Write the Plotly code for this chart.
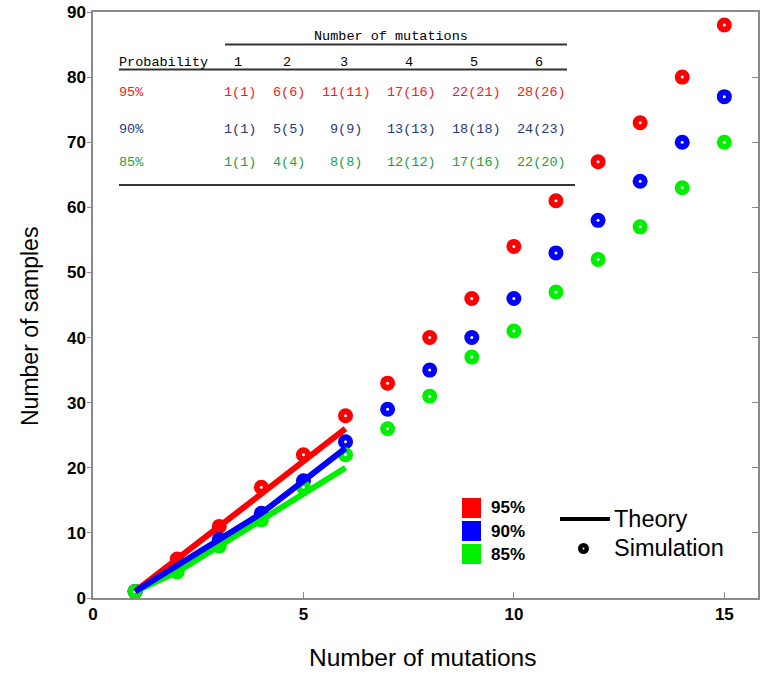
import plotly.graph_objects as go

# ---------------- data ----------------
mutations_sim = list(range(1, 16))
sim_95 = [1, 6, 11, 17, 22, 28, 33, 40, 46, 54, 61, 67, 73, 80, 88]
sim_90 = [1, 5, 9, 13, 18, 24, 29, 35, 40, 46, 53, 58, 64, 70, 77]
sim_85 = [1, 4, 8, 12, 17, 22, 26, 31, 37, 41, 47, 52, 57, 63, 70]

mutations_theory = [1, 2, 3, 4, 5, 6]
theory_95 = [1, 6, 11, 16, 21, 26]
theory_90 = [1, 5, 9, 13, 18, 23]
theory_85 = [1, 4, 8, 12, 16, 20]

prob_labels = ["95%", "90%", "85%"]
table_cols = ["1", "2", "3", "4", "5", "6"]
table_sim = [sim_95[:6], sim_90[:6], sim_85[:6]]
table_theory = [theory_95, theory_90, theory_85]

x_ticks = [0, 5, 10, 15]
y_ticks = [0, 10, 20, 30, 40, 50, 60, 70, 80, 90]

# ---------------- styling ----------------
W, H = 766, 677
L, R, T, B = 93, 758, 12, 598
plot_colors = ["#ff0000", "#0000ff", "#00ee00"]
table_colors = ["#ee2222", "#1f3a78", "#1ea03c"]
axis_gray = "#8a8a8a"
sans = "Liberation Sans, Arial, sans-serif"
mono = "Liberation Mono, Courier New, monospace"


def px(x):
    return (x - L) / (R - L)


def py(y):
    return (B - y) / (B - T)


fig = go.Figure()

sims = [sim_95, sim_90, sim_85]

for s, c in zip(sims, plot_colors):
    fig.add_trace(go.Scatter(x=mutations_sim, y=s, mode="markers",
                             marker=dict(size=15, color=c, line=dict(width=0)),
                             showlegend=False, hoverinfo="skip"))
for s in sims:
    fig.add_trace(go.Scatter(x=mutations_sim, y=s, mode="markers",
                             marker=dict(size=3, color="white", line=dict(width=0)),
                             showlegend=False, hoverinfo="skip"))
for t, c in zip([theory_95, theory_85, theory_90], [plot_colors[0], plot_colors[2], plot_colors[1]]):
    fig.add_trace(go.Scatter(x=mutations_theory, y=t, mode="lines",
                             line=dict(color=c, width=6),
                             showlegend=False, hoverinfo="skip"))

# dummy trace for right-side axis
fig.add_trace(go.Scatter(x=[None], y=[None], yaxis="y2", showlegend=False))

annotations = []
shapes = []

# ---- table ----
annotations.append(dict(x=px(391), y=py(37), xref="paper", yref="paper",
                        text="Number of mutations", showarrow=False,
                        font=dict(family=mono, size=13.5, color="black"),
                        xanchor="center", yanchor="middle"))
shapes.append(dict(type="line", xref="paper", yref="paper",
                   x0=px(225), x1=px(567), y0=py(44.5), y1=py(44.5),
                   line=dict(color="#333333", width=2)))
annotations.append(dict(x=px(117), y=py(62), xref="paper", yref="paper",
                        text="Probability", showarrow=False,
                        font=dict(family=mono, size=13.5, color="black"),
                        xanchor="left", yanchor="middle"))
col_x = [238, 287, 344, 409, 474, 539]
for cx, lab in zip(col_x, table_cols):
    annotations.append(dict(x=px(cx), y=py(62), xref="paper", yref="paper",
                            text=lab, showarrow=False,
                            font=dict(family=mono, size=13.5, color="black"),
                            xanchor="center", yanchor="middle"))
shapes.append(dict(type="line", xref="paper", yref="paper",
                   x0=px(119), x1=px(567), y0=py(69.5), y1=py(69.5),
                   line=dict(color="#333333", width=2)))
row_y = [92, 129, 162]
for ry, lab, sv, tv, col in zip(row_y, prob_labels, table_sim, table_theory, table_colors):
    annotations.append(dict(x=px(117), y=py(ry), xref="paper", yref="paper",
                            text=lab, showarrow=False,
                            font=dict(family=mono, size=13.5, color=col),
                            xanchor="left", yanchor="middle"))
    for cx, a, b in zip(col_x, sv, tv):
        annotations.append(dict(x=px(cx + 2), y=py(ry), xref="paper", yref="paper",
                                text=f"{a}({b})", showarrow=False,
                                font=dict(family=mono, size=13.5, color=col),
                                xanchor="center", yanchor="middle"))
shapes.append(dict(type="line", xref="paper", yref="paper",
                   x0=px(119), x1=px(575), y0=py(185), y1=py(185),
                   line=dict(color="#333333", width=2)))

# ---- legend ----
leg_y = [508, 531, 554]
for ly, lab, c in zip(leg_y, prob_labels, plot_colors):
    shapes.append(dict(type="rect", xref="paper", yref="paper",
                       x0=px(462), x1=px(481), y0=py(ly - 10), y1=py(ly + 10),
                       fillcolor=c, line=dict(width=0)))
    annotations.append(dict(x=px(489), y=py(ly), xref="paper", yref="paper",
                            text=f"<b>{lab}</b>", showarrow=False,
                            font=dict(family=sans, size=17, color="black"),
                            xanchor="left", yanchor="middle"))
shapes.append(dict(type="line", xref="paper", yref="paper",
                   x0=px(560), x1=px(610), y0=py(519), y1=py(519),
                   line=dict(color="black", width=4)))
annotations.append(dict(x=px(612), y=py(519), xref="paper", yref="paper",
                        text="Theory", showarrow=False,
                        font=dict(family=sans, size=23.5, color="black"),
                        xanchor="left", yanchor="middle"))
shapes.append(dict(type="circle", xref="paper", yref="paper",
                   x0=px(578), x1=px(589), y0=py(543), y1=py(554),
                   fillcolor="black", line=dict(width=0)))
shapes.append(dict(type="circle", xref="paper", yref="paper",
                   x0=px(582.5), x1=px(584.5), y0=py(547.5), y1=py(549.5),
                   fillcolor="white", line=dict(width=0)))
annotations.append(dict(x=px(612), y=py(548), xref="paper", yref="paper",
                        text="Simulation", showarrow=False,
                        font=dict(family=sans, size=23.5, color="black"),
                        xanchor="left", yanchor="middle"))

# ---- axis titles ----
annotations.append(dict(x=px(422), y=py(657), xref="paper", yref="paper",
                        text="Number of mutations", showarrow=False,
                        font=dict(family=sans, size=24.5, color="black"),
                        xanchor="center", yanchor="middle"))
annotations.append(dict(x=px(30), y=py(327), xref="paper", yref="paper",
                        text="Number of samples", showarrow=False, textangle=-90,
                        font=dict(family=sans, size=23, color="black"),
                        xanchor="center", yanchor="middle"))

tickfont = dict(family=sans, size=17, color="black", weight="bold")

fig.update_layout(
    width=W, height=H,
    margin=dict(l=L, r=W - R, t=T, b=H - B, pad=0, autoexpand=False),
    paper_bgcolor="white", plot_bgcolor="white",
    showlegend=False,
    xaxis=dict(range=[0, 15.8], tickvals=x_ticks, ticks="inside", ticklen=6,
               tickcolor=axis_gray, showline=True, linecolor=axis_gray, linewidth=1.5,
               mirror=True, showgrid=False, zeroline=False, tickfont=tickfont,
               automargin=False),
    yaxis=dict(range=[0, 90], tickvals=y_ticks, ticks="outside", ticklen=4,
               tickcolor=axis_gray, showline=True, linecolor=axis_gray, linewidth=1.5,
               mirror=True, showgrid=False, zeroline=False, tickfont=tickfont,
               ticklabelstandoff=-2, automargin=False),
    yaxis2=dict(range=[0, 90], tickvals=y_ticks, ticks="inside", ticklen=6,
                tickcolor=axis_gray, overlaying="y", side="right",
                showticklabels=False, showgrid=False, zeroline=False, showline=False,
                automargin=False),
    annotations=annotations,
    shapes=shapes,
)

fig.write_html("out.html", config={"displayModeBar": False},
               post_script="document.body.style.margin='0';")
